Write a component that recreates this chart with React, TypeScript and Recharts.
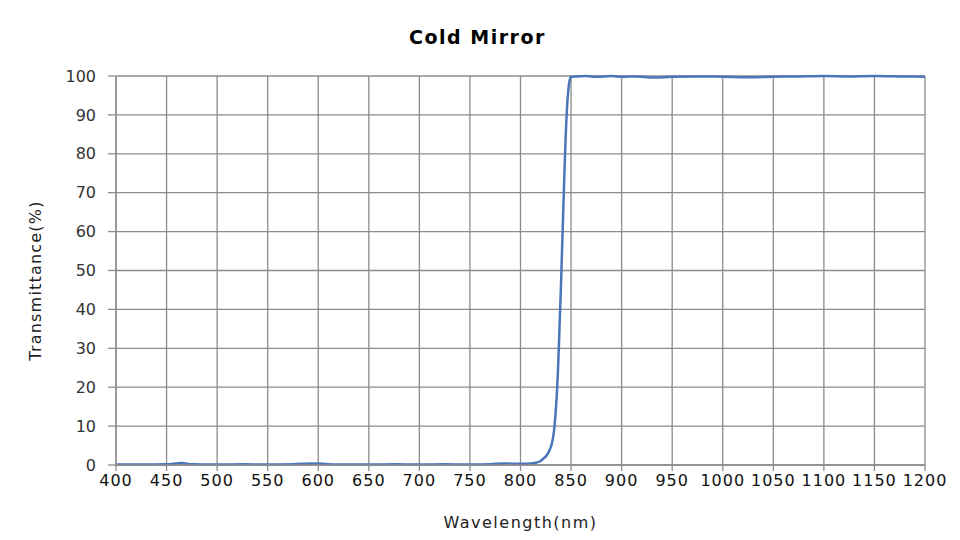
import React from 'react';
import { LineChart, Line, XAxis, YAxis, CartesianGrid } from 'recharts';

const wavelengths = [
  400, 425, 450, 465, 475, 500, 525, 550, 575, 595, 610, 625, 650, 675, 700, 725, 750, 770, 785,
  800, 810, 815, 819, 822, 826, 829, 831, 833, 834, 835, 836, 837, 838, 839, 840, 841, 842, 843,
  844, 845, 846, 847, 848, 849, 850, 855, 865, 875, 890, 900, 915, 930, 950, 975, 1000, 1025,
  1050, 1075, 1100, 1125, 1150, 1175, 1200,
];
const transmittance = [
  0.1, 0.1, 0.2, 0.5, 0.2, 0.1, 0.2, 0.1, 0.2, 0.4, 0.2, 0.1, 0.1, 0.2, 0.1, 0.2, 0.1, 0.2, 0.4,
  0.3, 0.4, 0.6, 0.9, 1.5, 2.5, 4, 5.5, 8.5, 11, 14.5, 18.5, 24, 31, 38.5, 46, 54.5, 63, 71.5,
  79.5, 86.5, 92, 95.5, 98, 99.3, 99.8, 99.9, 100, 99.8, 100, 99.8, 99.9, 99.6, 99.8, 99.9, 99.8, 99.7,
  99.8, 99.9, 100, 99.9, 100, 99.9, 99.8,
];

const xTicks = [400, 450, 500, 550, 600, 650, 700, 750, 800, 850, 900, 950, 1000, 1050, 1100, 1150, 1200];
const yTicks = [0, 10, 20, 30, 40, 50, 60, 70, 80, 90, 100];

const data = wavelengths.map((w, i) => ({ wavelength: w, value: transmittance[i] }));

const gridColor = '#8c8c8c';
const font = '"DejaVu Sans", sans-serif';

// rotated y-axis title, sits a little below the middle of the plot like the original
const YTitle = (props: any) => {
  const vb = props.viewBox || {};
  const cx = (vb.x || 0) + 35;
  const cy = (vb.y || 0) + (vb.height || 0) / 2 + 10;
  return (
    <text
      x={cx}
      y={cy}
      transform={`rotate(-90, ${cx}, ${cy})`}
      textAnchor="middle"
      dominantBaseline="central"
      fontSize={16}
      fill="#222"
      fontFamily={font}
      letterSpacing={1.2}
    >
      Transmittance(%)
    </text>
  );
};

export default function App() {
  return (
    <div style={{ position: 'relative', width: 960, height: 540, margin: -8, background: '#fff' }}>
      <div
        style={{
          position: 'absolute',
          top: 26,
          left: 0,
          width: 955,
          textAlign: 'center',
          fontFamily: font,
          fontWeight: 'bold',
          fontSize: 19,
          letterSpacing: 1.5,
          color: '#000',
        }}
      >
        Cold Mirror
      </div>
      <LineChart
        width={960}
        height={540}
        data={data}
        margin={{ top: 76, right: 35, left: 0, bottom: 0 }}
      >
        <CartesianGrid stroke={gridColor} strokeWidth={1.3} />
        <XAxis
          dataKey="wavelength"
          type="number"
          domain={[400, 1200]}
          ticks={xTicks}
          interval={0}
          height={75}
          tickSize={6}
          tickMargin={4}
          axisLine={{ stroke: gridColor, strokeWidth: 1.3 }}
          tickLine={{ stroke: gridColor, strokeWidth: 1.3 }}
          tick={{ fontSize: 16, fill: '#111', fontFamily: font, letterSpacing: 1 }}
          label={{
            value: 'Wavelength(nm)',
            position: 'insideBottom',
            offset: 12,
            style: { fontSize: 16, fill: '#222', fontFamily: font, letterSpacing: 1.5 },
          }}
        />
        <YAxis
          type="number"
          domain={[0, 100]}
          ticks={yTicks}
          interval={0}
          width={116}
          tickSize={8}
          tickMargin={12}
          axisLine={{ stroke: gridColor, strokeWidth: 1.3 }}
          tickLine={{ stroke: gridColor, strokeWidth: 1.3 }}
          tick={{ fontSize: 16, fill: '#333', fontFamily: font }}
          label={<YTitle />}
        />
        <Line
          type="monotone"
          dataKey="value"
          stroke="#4a77ba"
          strokeWidth={2.5}
          dot={false}
          isAnimationActive={false}
        />
      </LineChart>
    </div>
  );
}
